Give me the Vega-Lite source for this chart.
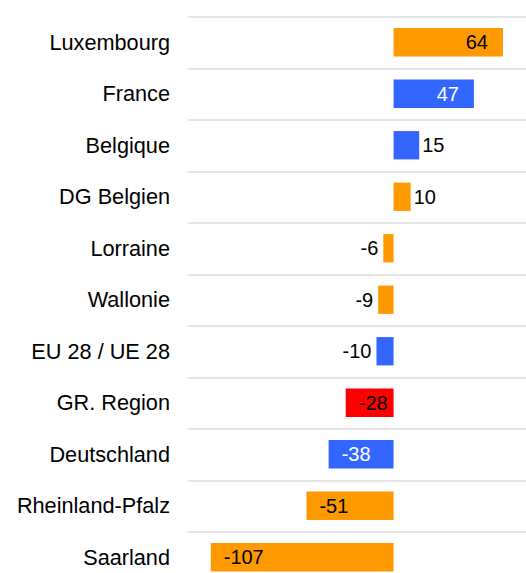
{
  "$schema": "https://vega.github.io/schema/vega-lite/v6.json",
  "width": 337.5,
  "height": 556.5,
  "autosize": {"type": "none"},
  "padding": {"left": 188.5, "top": 16.5, "right": 0, "bottom": 0},
  "background": "white",
  "config": {"view": {"stroke": null}, "font": "Liberation Sans"},
  "data": {
    "values": [
      {"region": "Luxembourg", "value": 64, "type": "region"},
      {"region": "France", "value": 47, "type": "national"},
      {"region": "Belgique", "value": 15, "type": "national"},
      {"region": "DG Belgien", "value": 10, "type": "region"},
      {"region": "Lorraine", "value": -6, "type": "region"},
      {"region": "Wallonie", "value": -9, "type": "region"},
      {"region": "EU 28 / UE 28", "value": -10, "type": "national"},
      {"region": "GR. Region", "value": -28, "type": "greater"},
      {"region": "Deutschland", "value": -38, "type": "national"},
      {"region": "Rheinland-Pfalz", "value": -51, "type": "region"},
      {"region": "Saarland", "value": -107, "type": "region"}
    ]
  },
  "encoding": {
    "y": {
      "field": "region",
      "type": "nominal",
      "sort": null,
      "scale": {"range": [0, 566.5], "paddingInner": 0, "paddingOuter": 0},
      "axis": {
        "title": null,
        "domain": false,
        "grid": true,
        "gridColor": "#cccccc",
        "gridWidth": 1,
        "tickBand": "extent",
        "tickSize": 2,
        "tickColor": "#dddddd",
        "labelPadding": 17,
        "labelFontSize": 21.7,
        "labelColor": "black",
        "labelFont": "Liberation Sans",
        "labelLimit": 300
      }
    },
    "x": {
      "field": "value",
      "type": "quantitative",
      "scale": {"domain": [-120, 77.5], "nice": false},
      "axis": null
    }
  },
  "layer": [
    {
      "mark": {"type": "bar", "height": {"band": 0.55}},
      "encoding": {
        "color": {
          "field": "type",
          "type": "nominal",
          "scale": {"domain": ["region", "national", "greater"], "range": ["#FF9900", "#3366FF", "#FF0000"]},
          "legend": null
        }
      }
    },
    {
      "transform": [{"filter": "datum.value >= 20"}],
      "mark": {"type": "text", "align": "right", "dx": -15, "dy": 1, "fontSize": 20, "font": "Liberation Sans"},
      "encoding": {
        "text": {"field": "value", "type": "nominal"},
        "color": {"condition": {"test": "datum.type === 'national'", "value": "white"}, "value": "black"}
      }
    },
    {
      "transform": [{"filter": "datum.value > 0 && datum.value < 20"}],
      "mark": {"type": "text", "align": "left", "dx": 3, "dy": 1, "fontSize": 20, "font": "Liberation Sans", "color": "black"},
      "encoding": {
        "text": {"field": "value", "type": "nominal"}
      }
    },
    {
      "transform": [{"filter": "datum.value < 0 && datum.value > -20"}],
      "mark": {"type": "text", "align": "right", "dx": -5, "dy": 1, "fontSize": 20, "font": "Liberation Sans", "color": "black"},
      "encoding": {
        "text": {"field": "value", "type": "nominal"}
      }
    },
    {
      "transform": [{"filter": "datum.value <= -20"}],
      "mark": {"type": "text", "align": "left", "dx": 13, "dy": 1, "fontSize": 20, "font": "Liberation Sans"},
      "encoding": {
        "text": {"field": "value", "type": "nominal"},
        "color": {"condition": {"test": "datum.type === 'national'", "value": "white"}, "value": "black"}
      }
    }
  ]
}
